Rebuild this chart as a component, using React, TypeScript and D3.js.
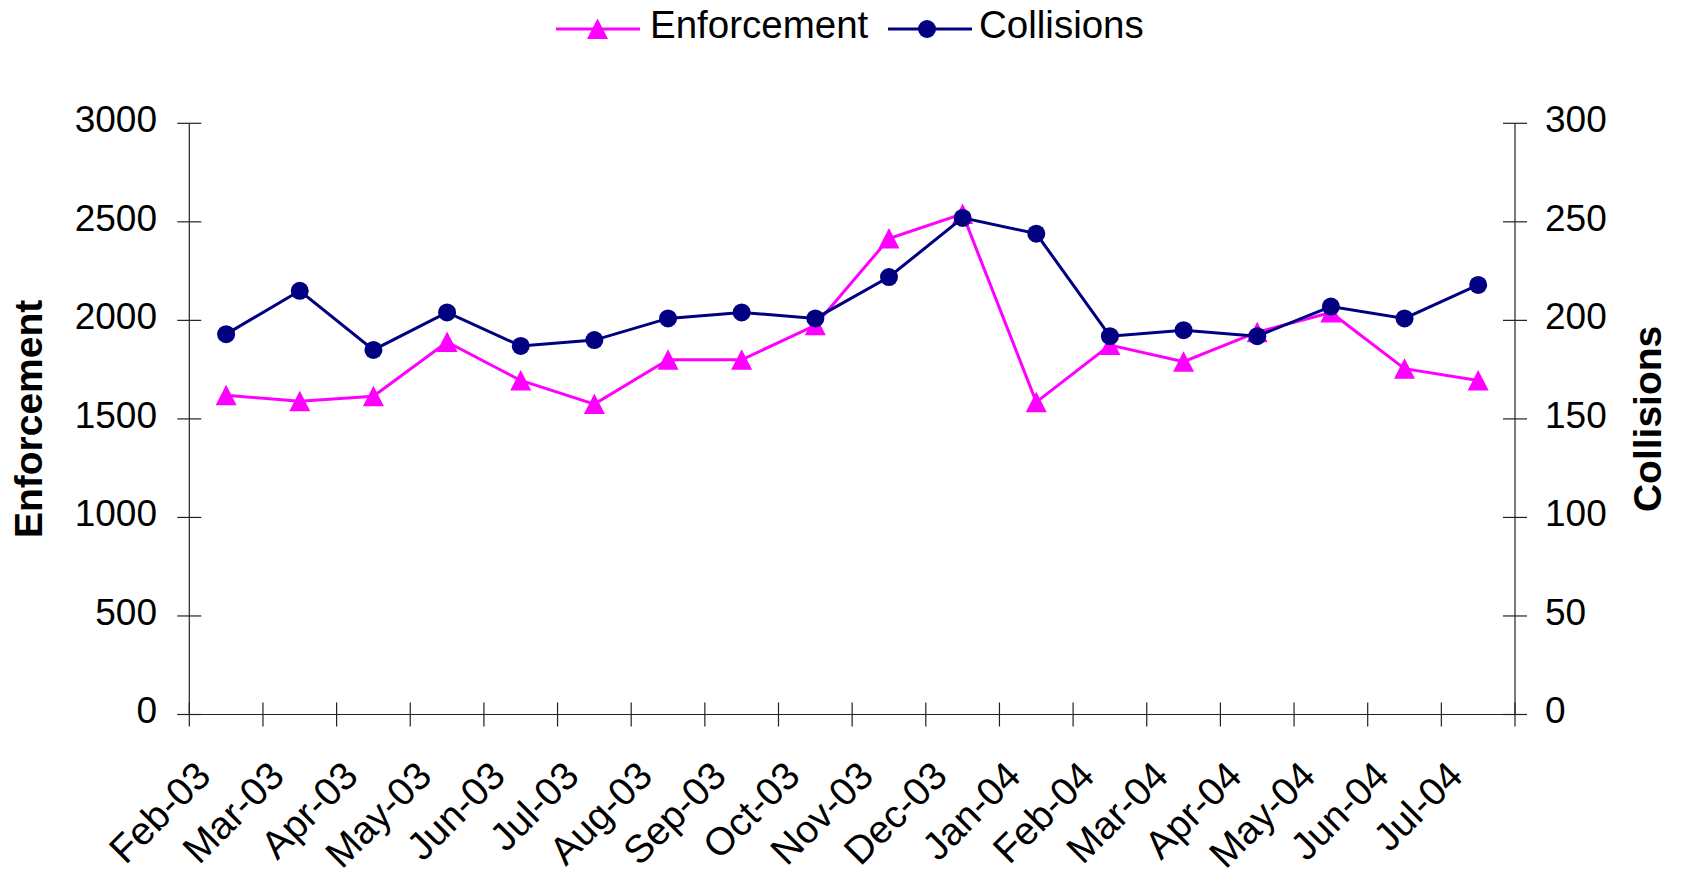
import React from "react";
import * as d3 from "d3";

// Monthly categories, Feb 2003 – Jul 2004
const months = [
  "Feb-03", "Mar-03", "Apr-03", "May-03", "Jun-03", "Jul-03", "Aug-03", "Sep-03", "Oct-03",
  "Nov-03", "Dec-03", "Jan-04", "Feb-04", "Mar-04", "Apr-04", "May-04", "Jun-04", "Jul-04",
];

// Enforcement counts (left axis)
const enforcement = [
  1620, 1590, 1615, 1890, 1695, 1575, 1800, 1800, 1975,
  2415, 2540, 1585, 1875, 1790, 1940, 2040, 1755, 1695,
];

// Collision counts (right axis)
const collisions = [
  193, 215, 185, 204, 187, 190, 201, 204, 201,
  222, 252, 244, 192, 195, 192, 207, 201, 218,
];

const leftTicks = [0, 500, 1000, 1500, 2000, 2500, 3000];
const rightTicks = [0, 50, 100, 150, 200, 250, 300];

const W = 1681;
const H = 873;
const plot = { left: 189.3, right: 1515, top: 123.3, bottom: 714.5 };

const MAGENTA = "#FF00FF";
const NAVY = "#000080";
const FONT = "Liberation Sans, Arial, sans-serif";
const FS = 37;

const trianglePath = "M0,-10.5L10.5,10L-10.5,10Z";

export default function App() {
  const x = d3.scaleBand<string>().domain(months).range([plot.left, plot.right]).padding(0);
  const cx = (m: string) => (x(m) as number) + x.bandwidth() / 2;
  const yL = d3.scaleLinear().domain([0, 3000]).range([plot.bottom, plot.top]);
  const yR = d3.scaleLinear().domain([0, 300]).range([plot.bottom, plot.top]);

  const enfLine = d3
    .line<number>()
    .x((_, i) => cx(months[i]))
    .y((d) => yL(d))(enforcement) as string;
  const colLine = d3
    .line<number>()
    .x((_, i) => cx(months[i]))
    .y((d) => yR(d))(collisions) as string;

  const boundaries = months.map((m) => x(m) as number).concat([plot.right]);

  return (
    <svg
      width={W}
      height={H}
      style={{ position: "absolute", left: 0, top: 0, background: "#fff" }}
      fontFamily={FONT}
    >
      <rect x={0} y={0} width={W} height={H} fill="#fff" />

      {/* Left axis */}
      <line x1={plot.left} x2={plot.left} y1={plot.top} y2={plot.bottom} stroke="#222" strokeWidth={1.2} />
      {leftTicks.map((t) => (
        <g key={"l" + t}>
          <line x1={plot.left - 12} x2={plot.left + 12} y1={yL(t)} y2={yL(t)} stroke="#222" strokeWidth={1.2} />
          <text x={157} y={yL(t)} dy="0.24em" textAnchor="end" fontSize={FS} fill="#000">
            {t}
          </text>
        </g>
      ))}

      {/* Right axis */}
      <line x1={plot.right} x2={plot.right} y1={plot.top} y2={plot.bottom} stroke="#222" strokeWidth={1.2} />
      {rightTicks.map((t) => (
        <g key={"r" + t}>
          <line x1={plot.right - 12} x2={plot.right + 12} y1={yR(t)} y2={yR(t)} stroke="#222" strokeWidth={1.2} />
          <text x={1545} y={yR(t)} dy="0.24em" textAnchor="start" fontSize={FS} fill="#000">
            {t}
          </text>
        </g>
      ))}

      {/* Category axis */}
      <line x1={plot.left} x2={plot.right} y1={plot.bottom} y2={plot.bottom} stroke="#222" strokeWidth={1.2} />
      {boundaries.map((b, i) => (
        <line key={"b" + i} x1={b} x2={b} y1={plot.bottom - 12} y2={plot.bottom + 12} stroke="#222" strokeWidth={1.2} />
      ))}
      {months.map((m) => (
        <text
          key={"m" + m}
          transform={`translate(${cx(m) - 23},${plot.bottom + 54}) rotate(-45)`}
          dy="0.35em"
          textAnchor="end"
          fontSize={39}
          fill="#000"
        >
          {m}
        </text>
      ))}

      {/* Axis titles */}
      <text
        transform={`translate(41.5,${(plot.top + plot.bottom) / 2}) rotate(-90)`}
        textAnchor="middle"
        fontSize={39}
        fontWeight="bold"
        fill="#000"
      >
        Enforcement
      </text>
      <text
        transform={`translate(1661,${(plot.top + plot.bottom) / 2}) rotate(-90)`}
        textAnchor="middle"
        fontSize={39}
        fontWeight="bold"
        fill="#000"
      >
        Collisions
      </text>

      {/* Enforcement series */}
      <path d={enfLine} fill="none" stroke={MAGENTA} strokeWidth={3} />
      {enforcement.map((v, i) => (
        <path key={"e" + i} d={trianglePath} transform={`translate(${cx(months[i])},${yL(v)})`} fill={MAGENTA} />
      ))}

      {/* Collisions series */}
      <path d={colLine} fill="none" stroke={NAVY} strokeWidth={3} />
      {collisions.map((v, i) => (
        <circle key={"c" + i} cx={cx(months[i])} cy={yR(v)} r={9} fill={NAVY} />
      ))}

      {/* Legend */}
      <g>
        <line x1={556} x2={640} y1={29} y2={29} stroke={MAGENTA} strokeWidth={3} />
        <path d={trianglePath} transform="translate(597.5,29)" fill={MAGENTA} />
        <text x={650} y={38} fontSize={38.5} fill="#000">
          Enforcement
        </text>
        <line x1={888} x2={972} y1={29} y2={29} stroke={NAVY} strokeWidth={3} />
        <circle cx={927} cy={29} r={9} fill={NAVY} />
        <text x={979} y={38} fontSize={38.5} fill="#000">
          Collisions
        </text>
      </g>
    </svg>
  );
}
